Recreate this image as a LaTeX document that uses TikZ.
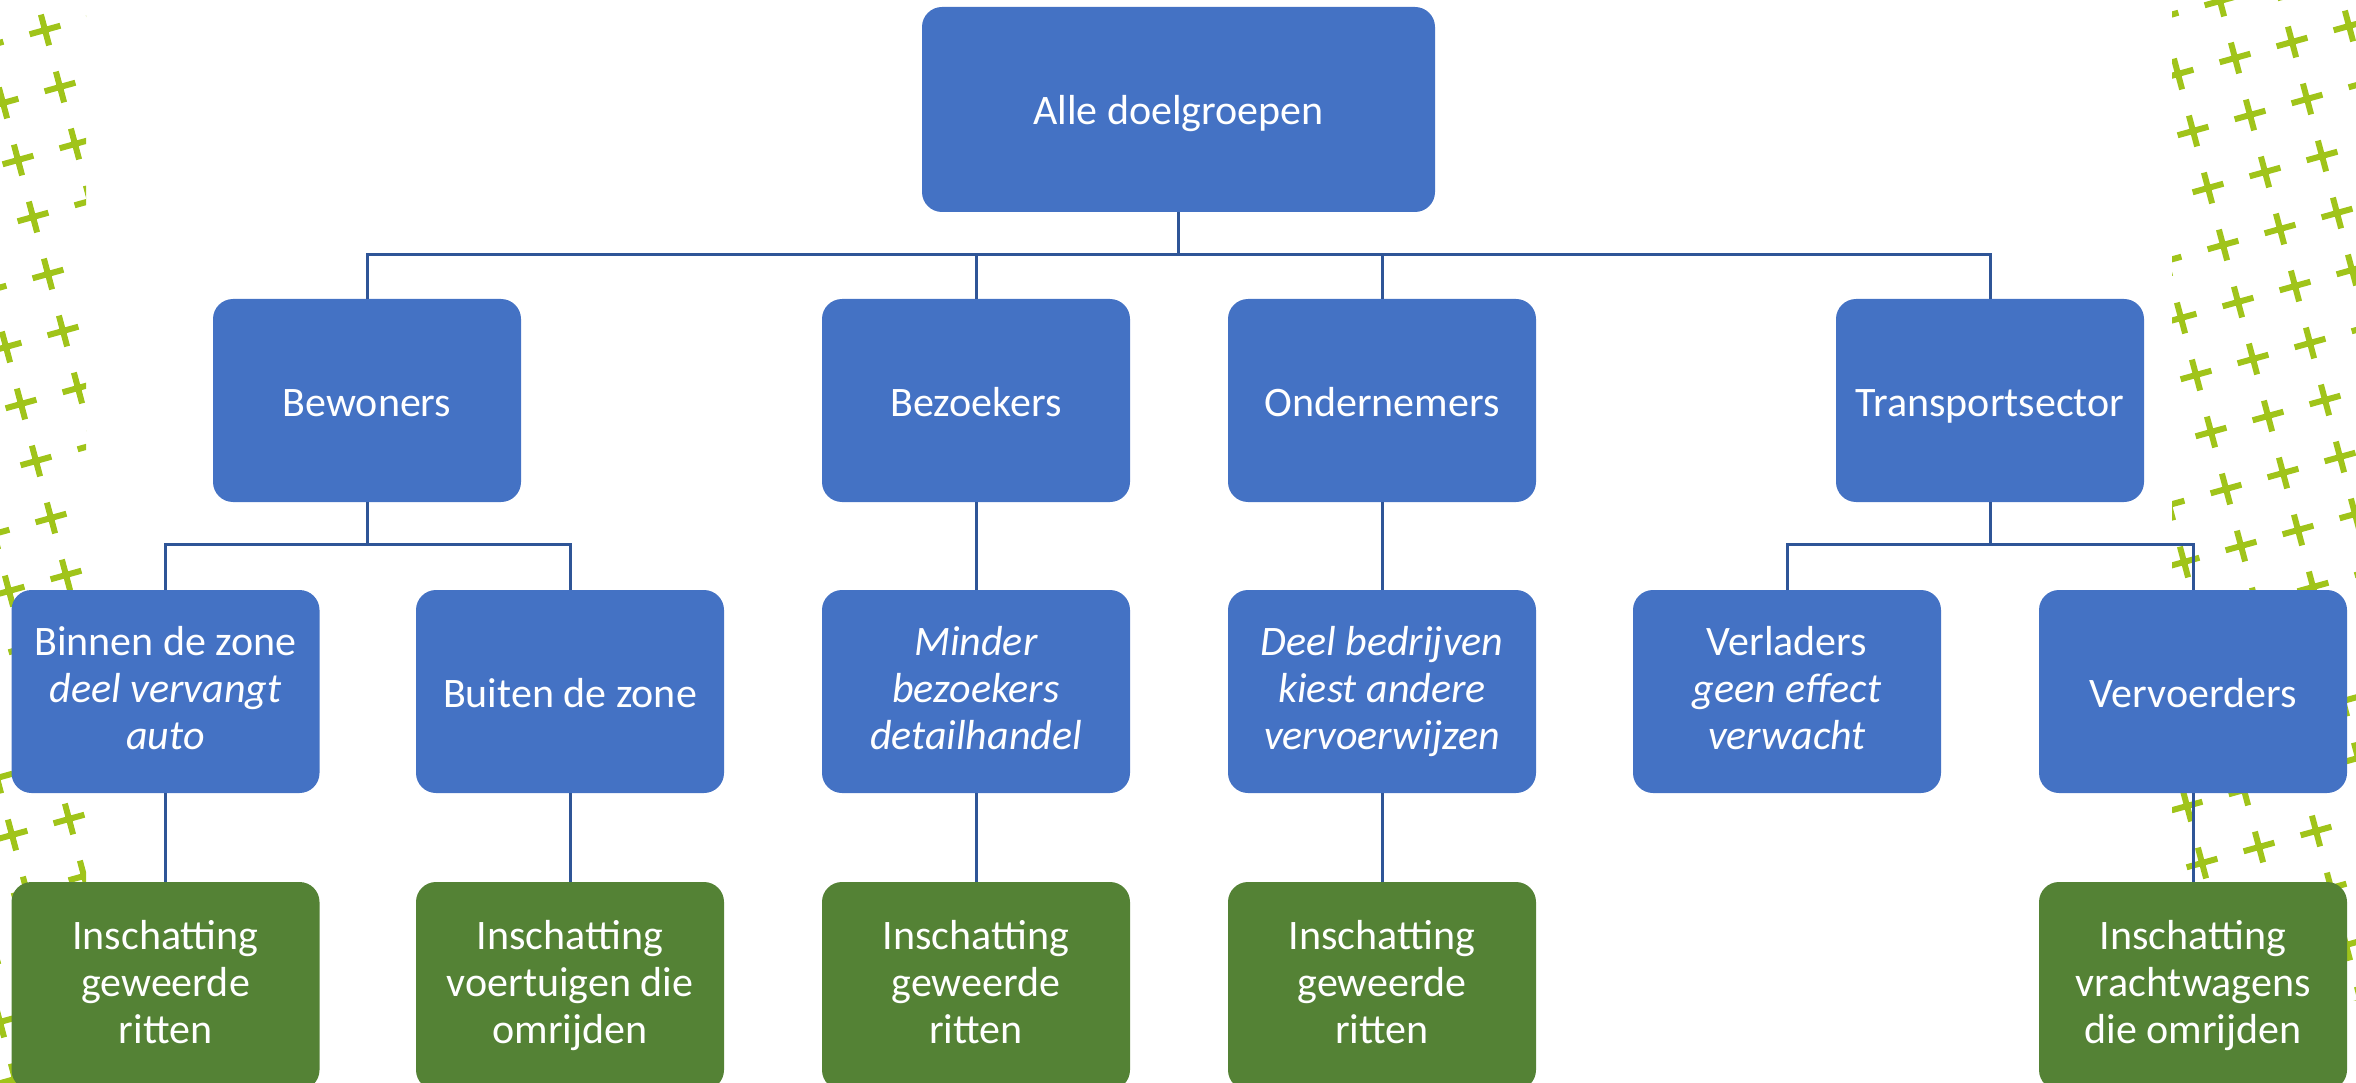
\documentclass[tikz,border=0pt]{standalone}
\usepackage{fontspec}
\setmainfont{Carlito}
\usetikzlibrary{calc}
\definecolor{boxblue}{RGB}{68,114,196}
\definecolor{boxgreen}{RGB}{84,130,53}
\definecolor{linkblue}{RGB}{47,85,151}
\definecolor{crossgreen}{RGB}{160,196,26}
\newcommand\boxstrut{\rule[-8pt]{0pt}{47pt}}
\tikzset{
  box/.style={rounded corners=20pt, minimum width=308pt, minimum height=203pt,
    inner sep=0pt, text=white, align=center, fill=boxblue,
    font=\fontsize{42pt}{47pt}\selectfont,
    execute at begin node=\boxstrut, execute at end node=\boxstrut},
  gbox/.style={box, fill=boxgreen, minimum height=208pt},
  link/.style={draw=linkblue, line width=3pt},
  crossline/.style={draw=crossgreen, line width=6pt}
}
\begin{document}
\begin{tikzpicture}[x=1pt,y=-1pt]
\useasboundingbox (0,0) rectangle (2356,1083);
% background crosses
\begin{scope}
\clip (0,0) rectangle (86,1083);
\foreach \m in {-8,...,3}{\foreach \n in {-2,...,21}{
  \pgfmathsetmacro\cx{45+57*\m+15*\n}
  \pgfmathsetmacro\cy{30-16*\m+57*\n}
  \draw[crossline] (\cx-15.4,\cy+4.3) -- (\cx+15.4,\cy-4.3)
                   (\cx-4.1,\cy-15.4) -- (\cx+4.1,\cy+15.4);
}}
\end{scope}
\begin{scope}
\clip (2172,0) rectangle (2356,1000);
\foreach \m in {-8,...,3}{\foreach \n in {-2,...,20}{
  \pgfmathsetmacro\cx{2235+57*\m+15*\n}
  \pgfmathsetmacro\cy{58-16*\m+57*\n}
  \draw[crossline] (\cx-15.4,\cy+4.3) -- (\cx+15.4,\cy-4.3)
                   (\cx-4.1,\cy-15.4) -- (\cx+4.1,\cy+15.4);
}}
\end{scope}
% nodes
\node[box, minimum width=513pt, minimum height=205pt] (top) at (1178.5,109.5) {Alle doelgroepen};
\node[box] (bew) at (367,400.5) {Bewoners};
\node[box] (bez) at (976,400.5) {Bezoekers};
\node[box] (ond) at (1382,400.5) {Ondernemers};
\node[box] (tra) at (1990,400.5) {Transportsector};
\node[box] (binnen) at (165.5,691.5) {Binnen de zone\\\textit{deel vervangt}\\\textit{auto}};
\node[box] (buiten) at (570,691.5) {Buiten de zone};
\node[box] (minder) at (976,691.5) {\textit{Minder}\\\textit{bezoekers}\\\textit{detailhandel}};
\node[box] (deel) at (1382,691.5) {\textit{Deel bedrijven}\\\textit{kiest andere}\\\textit{vervoerwijzen}};
\node[box] (verl) at (1787,691.5) {Verladers\\\textit{geen effect}\\\textit{verwacht}};
\node[box] (vervo) at (2193,691.5) {Vervoerders};
\node[gbox] (g1) at (165.5,986) {Inschatting\\geweerde\\ritten};
\node[gbox] (g2) at (570,986) {Inschatting\\voertuigen die\\omrijden};
\node[gbox] (g3) at (976,986) {Inschatting\\geweerde\\ritten};
\node[gbox] (g4) at (1382,986) {Inschatting\\geweerde\\ritten};
\node[gbox] (g5) at (2193,986) {Inschatting\\vrachtwagens\\die omrijden};
% connectors
\coordinate (barA) at (0,255);
\coordinate (barB) at (0,544);
\foreach \c in {bew,bez,ond,tra}
  \draw[link] (top.south) -- (top.south |- barA) -| (\c.north);
\foreach \c in {binnen,buiten}
  \draw[link] (bew.south) -- (bew.south |- barB) -| (\c.north);
\foreach \c in {verl,vervo}
  \draw[link] (tra.south) -- (tra.south |- barB) -| (\c.north);
\draw[link] (bez.south) -- (minder.north);
\draw[link] (ond.south) -- (deel.north);
\draw[link] (binnen.south) -- (g1.north);
\draw[link] (buiten.south) -- (g2.north);
\draw[link] (minder.south) -- (g3.north);
\draw[link] (deel.south) -- (g4.north);
\draw[link] (vervo.south) -- (g5.north);
\end{tikzpicture}
\end{document}
